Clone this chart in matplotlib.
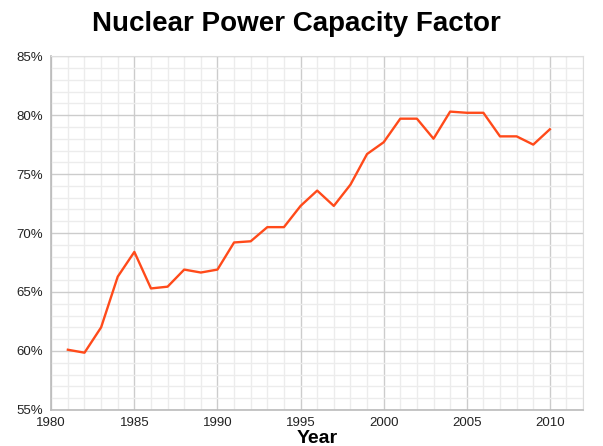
import matplotlib.pyplot as plt
from matplotlib.ticker import MultipleLocator, FuncFormatter

plt.rcParams['font.family'] = ['Liberation Sans', 'DejaVu Sans']

years = list(range(1981, 2011))
capacity = [60.1, 59.85, 62.0, 66.3, 68.4, 65.3, 65.45, 66.9, 66.65, 66.9,
            69.2, 69.3, 70.5, 70.5, 72.3, 73.6, 72.3, 74.1, 76.7, 77.7,
            79.7, 79.7, 78.0, 80.3, 80.2, 80.2, 78.2, 78.2, 77.5, 78.8]

fig = plt.figure(figsize=(6.03, 4.46), dpi=100)
ax = fig.add_axes([0.085, 0.081, 0.882, 0.793])

ax.plot(years, capacity, color='#ff4a1a', lw=1.7)

ax.set_xlim(1980, 2012)
ax.set_ylim(55, 85)
ax.xaxis.set_major_locator(MultipleLocator(5))
ax.xaxis.set_minor_locator(MultipleLocator(1))
ax.yaxis.set_major_locator(MultipleLocator(5))
ax.yaxis.set_minor_locator(MultipleLocator(1))
ax.yaxis.set_major_formatter(FuncFormatter(lambda v, _: f'{v:.0f}%'))

ax.grid(which='major', color='#cccccc', lw=1)
ax.grid(which='minor', color='#ececec', lw=1)
ax.set_axisbelow(True)
ax.tick_params(which='both', length=0, labelsize=9.5, colors='#222222')
ax.tick_params(axis='x', pad=5)
ax.tick_params(axis='y', pad=6)

for side in ['top', 'right']:
    ax.spines[side].set_color('#dddddd')
for side in ['left', 'bottom']:
    ax.spines[side].set_color('#bbbbbb')
    ax.spines[side].set_linewidth(1.2)

ax.set_xlabel('Year', fontsize=14, fontweight='bold', labelpad=1)
fig.suptitle('Nuclear Power Capacity Factor', fontsize=20, fontweight='bold',
             x=0.492, y=0.975)

fig.savefig('out.png', dpi=100)
